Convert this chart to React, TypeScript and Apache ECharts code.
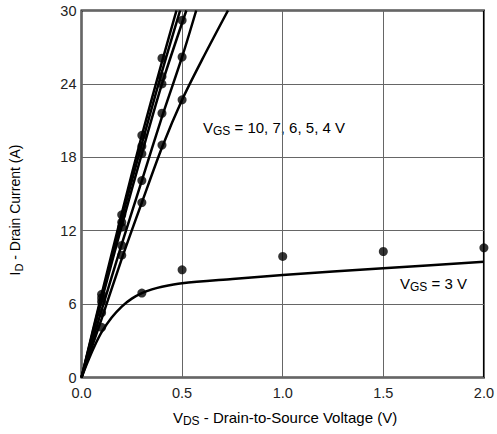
import React, { useEffect, useRef } from "react";
import * as echarts from "echarts";

// Simulated output curves [VDS (V), ID (A)]
const vgs10Curve: [number, number][] = [[0, 0], [0.1, 6.8], [0.2, 13.4], [0.3, 19.8], [0.4, 25.8], [0.472, 30]];
const vgs7Curve: [number, number][] = [[0, 0], [0.1, 6.6], [0.2, 13.0], [0.3, 19.1], [0.4, 25.0], [0.49, 30]];
const vgs6Curve: [number, number][] = [[0, 0], [0.1, 6.3], [0.2, 12.4], [0.3, 18.3], [0.4, 24.0], [0.521, 30]];
const vgs5Curve: [number, number][] = [[0, 0], [0.1, 5.5], [0.2, 10.9], [0.3, 16.1], [0.4, 21.3], [0.5, 26.2], [0.57, 30]];
const vgs4Curve: [number, number][] = [[0, 0], [0.1, 4.8], [0.2, 9.7], [0.3, 14.3], [0.4, 18.8], [0.5, 22.7], [0.6, 26.0], [0.728, 30]];
const vgs3Curve: [number, number][] = [
  [0, 0], [0.03, 1.25], [0.06, 2.4], [0.1, 3.7], [0.15, 4.9], [0.2, 5.8], [0.25, 6.45], [0.3, 6.9],
  [0.35, 7.2], [0.4, 7.42], [0.5, 7.7], [0.75, 8.05], [1.0, 8.38], [1.5, 8.93], [2.0, 9.47],
];

// Measured points
const measuredPoints: [number, number][] = [
  [0.1, 6.8], [0.1, 6.5], [0.1, 6.2], [0.1, 5.3], [0.1, 4.1],
  [0.2, 13.3], [0.2, 12.7], [0.2, 12.3], [0.2, 10.8], [0.2, 10.0],
  [0.3, 19.8], [0.3, 18.9], [0.3, 18.3], [0.3, 16.1], [0.3, 14.3],
  [0.4, 26.1], [0.4, 24.6], [0.4, 24.0], [0.4, 21.6], [0.4, 19.0],
  [0.5, 29.2], [0.5, 26.2], [0.5, 22.7],
  [0.3, 6.9], [0.5, 8.8], [1.0, 9.9], [1.5, 10.3], [2.0, 10.6],
];

const FONT = "'Liberation Sans', Arial, Helvetica, sans-serif";
const TXT = "#222";

export default function App() {
  const ref = useRef<HTMLDivElement>(null);
  useEffect(() => {
    if (!ref.current) return;
    const chart = echarts.init(ref.current, undefined, { renderer: "svg" });
    const curves = [vgs10Curve, vgs7Curve, vgs6Curve, vgs5Curve, vgs4Curve, vgs3Curve];
    const richFor = (size: number) => ({
      m: { fontSize: size, fontFamily: FONT, color: TXT },
      s: { fontSize: size - 3, fontFamily: FONT, color: TXT, padding: [8, 0, 0, 0] },
    });
    chart.setOption({
      animation: false,
      grid: { left: 81.5, right: 10.5, top: 10.5, bottom: 56.5, show: true, borderColor: "#000", borderWidth: 2 },
      xAxis: {
        type: "value", min: 0, max: 2, interval: 0.5,
        axisLine: { show: false }, axisTick: { show: false },
        splitLine: { show: true, lineStyle: { color: "#666", width: 1 } },
        axisLabel: { formatter: (v: number) => v.toFixed(1), color: TXT, fontSize: 14.5, fontFamily: FONT, margin: 8 },
      },
      yAxis: {
        type: "value", min: 0, max: 30, interval: 6,
        axisLine: { show: false }, axisTick: { show: false },
        splitLine: { show: true, lineStyle: { color: "#666", width: 1 } },
        axisLabel: { color: TXT, fontSize: 14.5, fontFamily: FONT, margin: 5 },
      },
      series: [
        ...curves.map((c) => ({
          type: "line", data: c, smooth: 0.3, showSymbol: false, symbol: "none",
          lineStyle: { color: "#000", width: 2.5 }, silent: true,
        })),
        {
          type: "scatter", data: measuredPoints, symbolSize: 9,
          itemStyle: { color: "#000" }, silent: true,
        },
      ],
      graphic: [
        {
          type: "text", x: 203, y: 127,
          style: { text: "{m|V}{s|GS}{m| = 10, 7, 6, 5, 4 V}", rich: richFor(15), verticalAlign: "middle" },
        },
        {
          type: "text", x: 400, y: 283,
          style: { text: "{m|V}{s|GS}{m| = 3 V}", rich: richFor(15), verticalAlign: "middle" },
        },
        {
          type: "text", x: 285, y: 417,
          style: { text: "{m|V}{s|DS}{m| - Drain-to-Source Voltage (V)}", rich: richFor(15), align: "center", verticalAlign: "middle" },
        },
        {
          type: "text", x: 15, y: 210, rotation: Math.PI / 2,
          style: { text: "{m|I}{s|D}{m| - Drain Current (A)}", rich: richFor(14), align: "center", verticalAlign: "middle" },
        },
      ],
    });
    return () => chart.dispose();
  }, []);
  return <div ref={ref} style={{ width: 497, height: 434, position: "absolute", left: 0, top: 0, background: "#fff" }} />;
}
